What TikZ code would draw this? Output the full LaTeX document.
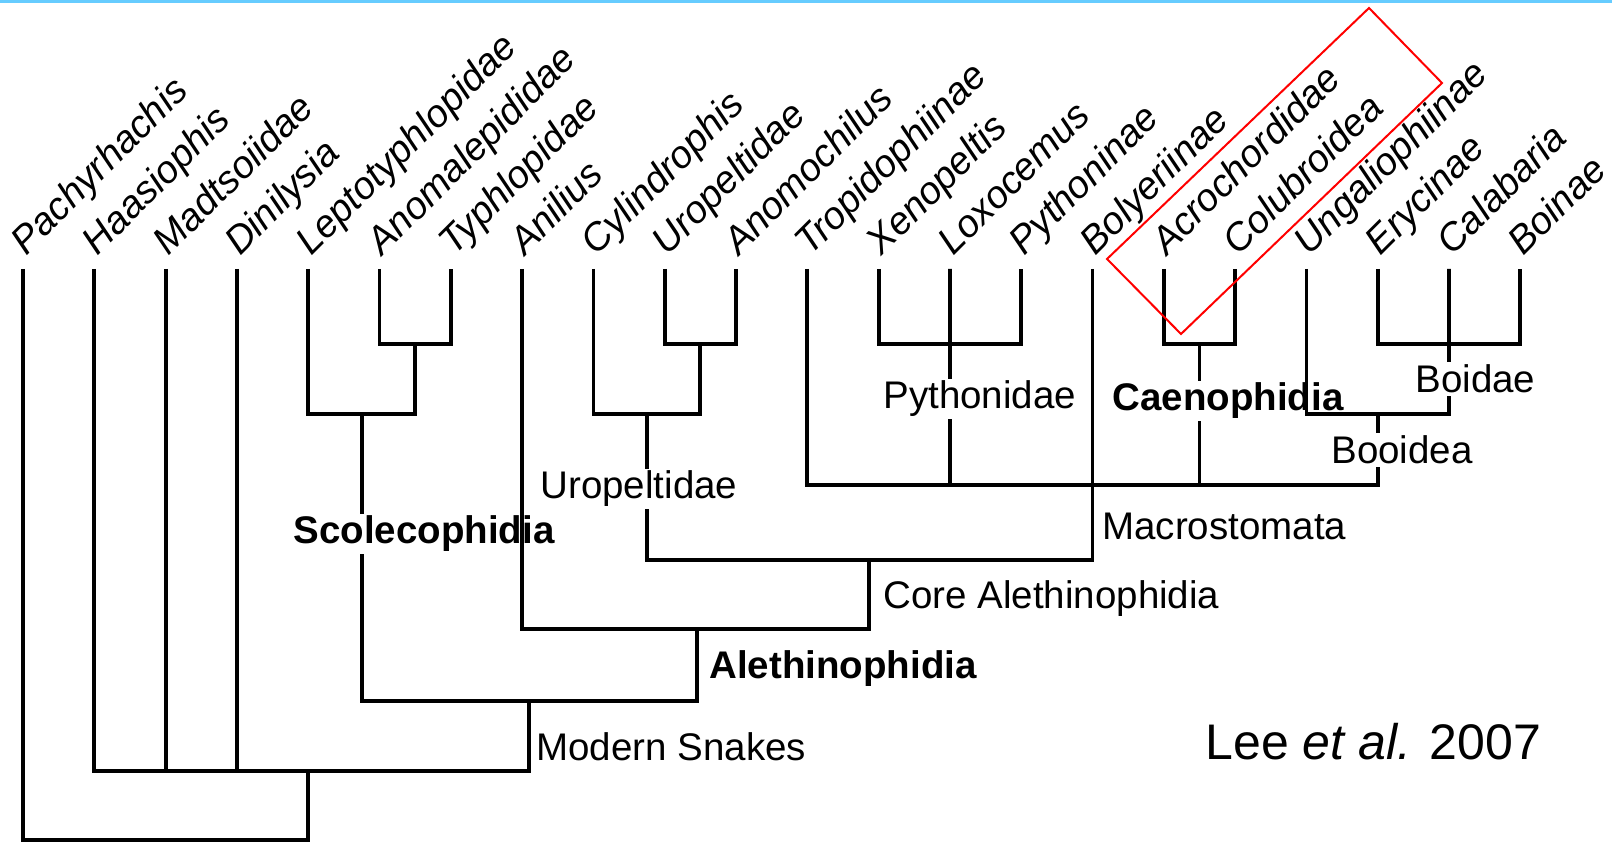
\documentclass[tikz,border=0pt]{standalone}
\usepackage{fontspec}
\setmainfont{Liberation Sans}
\definecolor{topblue}{RGB}{102,204,255}
\tikzset{
  branch/.style={line width=1.9pt, line join=miter, black},
  leaf/.style={rotate=45, anchor=base west, inner sep=0pt, font=\fontsize{19.25}{23}\selectfont\itshape},
  clade/.style={anchor=west, inner sep=1pt, font=\fontsize{19.25}{23}\selectfont},
  bclade/.style={anchor=west, inner sep=1pt, font=\fontsize{19.25}{23}\selectfont\bfseries},
}
\begin{document}
\begin{tikzpicture}[x=0.5pt,y=-0.5pt]
\useasboundingbox (0,0) rectangle (1612,844);
\fill[topblue] (0,0) rectangle (1612,3);
% leaves
\foreach \i/\lab in {0/Pachyrhachis,1/Haasiophis,2/Madtsoiidae,3/Dinilysia,4/Leptotyphlopidae,5/Anomalepididae,6/Typhlopidae,7/Anilius,8/Cylindrophis,9/Uropeltidae,10/Anomochilus,11/Tropidophiinae,12/Xenopeltis,13/Loxocemus,14/Pythoninae,15/Bolyeriinae,16/Acrochordidae,17/Colubroidea,18/Ungaliophiinae,19/Erycinae,20/Calabaria,21/Boinae}{
  \coordinate (L\i) at ({23+71.3*\i},269);
  \node[leaf] (t\i) at ({23+71.3*\i+3},257) {\lab};
}
% internal nodes
\coordinate (nAT) at (415.15,344);
\coordinate (nScol) at (361.7,414);
\coordinate (nUA) at (700.35,344);
\coordinate (nUro) at (646.9,414);
\coordinate (nPy) at (949.9,344);
\coordinate (nCaen) at (1199.45,344);
\coordinate (nBoid) at (1449,344);
\coordinate (nBooid) at (1377.7,414);
\coordinate (nMacro) at (1092.5,485);
\coordinate (nCore) at (869,560);
\coordinate (nAleth) at (696.9,629);
\coordinate (nModern) at (529.3,701);
\coordinate (nSnakes) at (308.2,771);
\coordinate (nRoot) at (165.6,840);
% clade labels
\node[bclade] (cScol) at (291,534) {Scolecophidia};
\node[clade] (cUro) at (538,489) {Uropeltidae};
\node[clade] (cPy) at (881,399) {Pythonidae};
\node[bclade] (cCaen) at (1110,401) {Caenophidia};
\node[clade] (cBoid) at (1413,379) {Boidae};
\node[clade] (cBooid) at (1329,450) {Booidea};
\node[clade] (cMacro) at (1100,526) {Macrostomata};
\node[clade] (cCore) at (881,599) {Core Alethinophidia};
\node[bclade] (cAleth) at (707,669) {Alethinophidia};
\node[clade] (cModern) at (534,747) {Modern Snakes};
\node[anchor=west, inner sep=0pt, font=\fontsize{25}{30}\selectfont] (cite) at (1205,742) {Lee \textit{et al.} 2007};
% branches
\draw[branch] (L5) |- (nAT) -| (L6);
\draw[branch] (L4) |- (nScol) -| (nAT);
\draw[branch] (L9) |- (nUA) -| (L10);
\draw[branch] (L8) |- (nUro) -| (nUA);
\draw[branch] (L12) |- (nPy) -| (L14);
\draw[branch] (L13) -- (nPy);
\draw[branch] (L16) |- (nCaen) -| (L17);
\draw[branch] (L19) |- (nBoid) -| (L21);
\draw[branch] (L20) -- (nBoid);
\draw[branch] (nBoid) -- (nBoid |- cBoid.north);
\draw[branch] (L18) |- (nBooid) -| (nBoid |- cBoid.south);
\draw[branch] (nBooid) -- (nBooid |- cBooid.north);
\draw[branch] (L11) |- (nMacro) -| (nBooid |- cBooid.south);
\draw[branch] (nPy) -- (nPy |- cPy.north);
\draw[branch] (nPy |- cPy.south) -- (nPy |- nMacro);
\draw[branch] (nCaen) -- (nCaen |- cCaen.north);
\draw[branch] (nCaen |- cCaen.south) -- (nCaen |- nMacro);
\draw[branch] (L15) -- (nMacro);
\draw[branch] (nUro) -- (nUro |- cUro.north);
\draw[branch] (nUro |- cUro.south) |- (nCore) -| (nMacro);
\draw[branch] (L7) |- (nAleth) -| (nCore);
\draw[branch] (nScol) -- (nScol |- cScol.north);
\draw[branch] (nScol |- cScol.south) |- (nModern) -| (nAleth);
\draw[branch] (L1) |- (nSnakes) -| (nModern);
\draw[branch] (L2) -- (L2 |- nSnakes);
\draw[branch] (L3) -- (L3 |- nSnakes);
\draw[branch] (L0) |- (nRoot) -| (nSnakes);
% highlight box
\draw[red, line width=1pt] (1369,8) -- (1442,83) -- (1181,334) -- (1107,259) -- cycle;
\end{tikzpicture}
\end{document}
